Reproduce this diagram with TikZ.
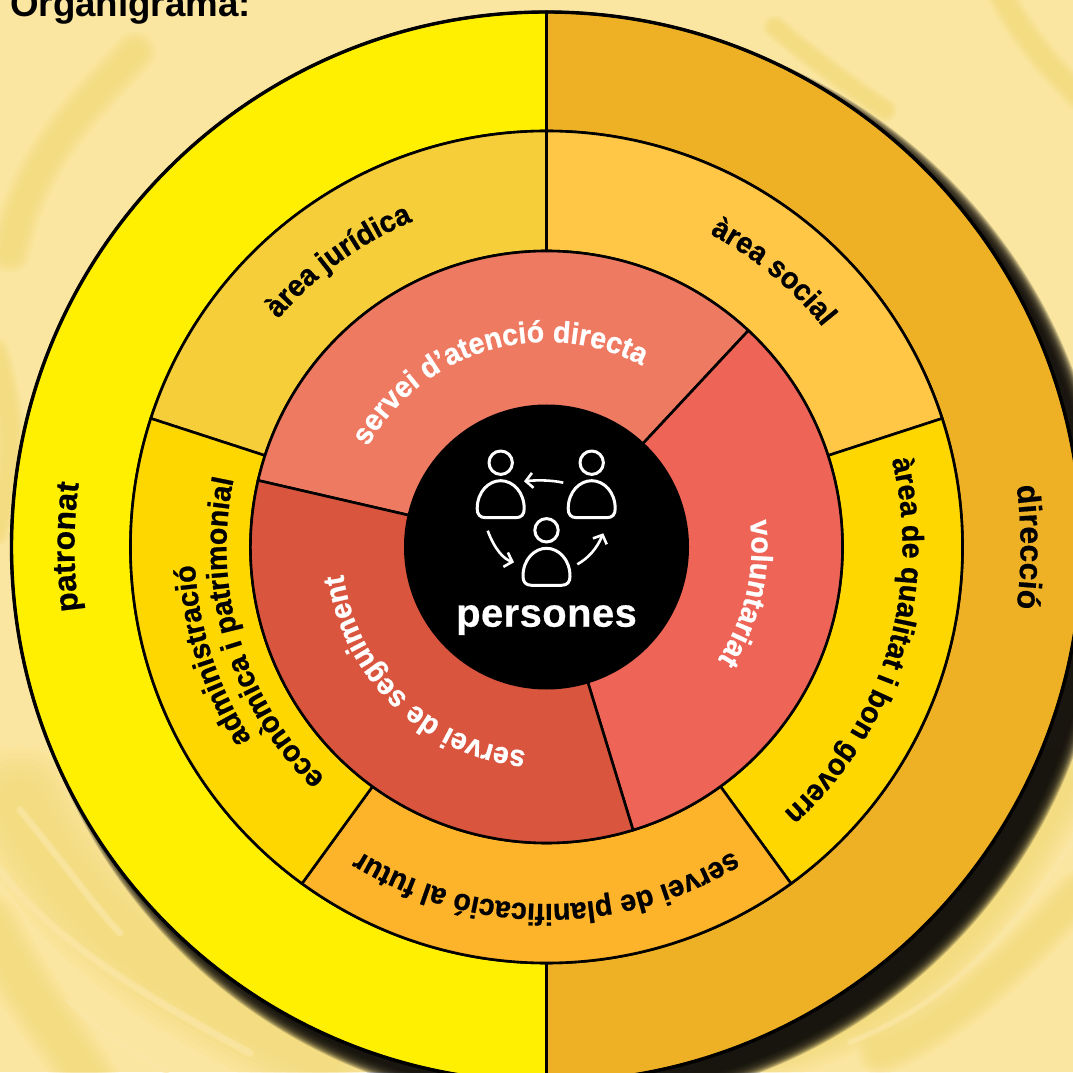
\documentclass[tikz,border=0pt]{standalone}
\usepackage{fontspec}
\usetikzlibrary{decorations.text,arrows.meta}
\setmainfont{Liberation Sans}
\newfontfamily\narrowfont[FakeStretch=0.95,BoldFeatures={FakeBold=0.8}]{Liberation Sans}
\newfontfamily\widefont[BoldFeatures={FakeBold=0.5,LetterSpace=1}]{Liberation Sans}
\definecolor{bgc}{HTML}{FAE6A0}
\definecolor{swirl}{HTML}{F1D76E}
\definecolor{lightstreak}{HTML}{FBE8A8}
\definecolor{cpatronat}{HTML}{FFEF00}
\definecolor{cdireccio}{HTML}{EEB025}
\definecolor{cjuridica}{HTML}{F5CE3A}
\definecolor{csocial}{HTML}{FFC745}
\definecolor{cgold}{HTML}{FFD700}
\definecolor{cplan}{HTML}{FDB32A}
\definecolor{catencio}{HTML}{EF7A62}
\definecolor{cvolunt}{HTML}{EE6557}
\definecolor{cseguiment}{HTML}{D9553E}
\newcommand{\sector}[5]{% r1 r2 a1 a2 colour
  \filldraw[fill=#5,draw=black,line width=2.6pt]
    (#3:#2) arc[start angle=#3,end angle=#4,radius=#2]
    -- (#4:#1) arc[start angle=#4,end angle=#3,radius=#1] -- cycle;}
\newcommand{\arclabel}[6]{% radius centre half-span size font/colour text
  \pgfmathsetmacro{\aS}{#2+#3}\pgfmathsetmacro{\aE}{#2-#3}
  \path[decorate,decoration={text along path,text align=center,
    text={|\fontsize{#4}{#4}\selectfont\bfseries #5|#6}}]
    (\aS:#1) arc[start angle=\aS,end angle=\aE,radius=#1];}
\newcommand{\persona}[2]{%
  \begin{scope}[shift={(#1,#2)},iconline]
    \draw (-15,0) .. controls (-21,0) and (-23.5,3.5) .. (-23.5,9)
      .. controls (-23.5,26) and (-12,37) .. (0,37)
      .. controls (12,37) and (23.5,26) .. (23.5,9)
      .. controls (23.5,3.5) and (21,0) .. (15,0) -- cycle;
    \draw (0,55) circle[radius=11.7];
  \end{scope}}
\newcommand{\swirlband}[2]{%
  \foreach \w in {1,0.9,0.8,0.7,0.6,0.5,0.4}{
    \draw[swirl,opacity=0.11,line width=#1*\w pt,line cap=round] #2;}}
\newcommand{\streak}[2]{%
  \foreach \w in {1,0.6}{
    \draw[lightstreak,opacity=0.45,line width=#1*\w pt,line cap=round] #2;}}
\tikzset{
  iconline/.style={draw=white,line width=3pt,line join=round},
  cyclearrow/.style={draw=white,line width=2.6pt,-{Straight Barb[length=7pt,width=15pt,line width=2.6pt]}},
}
\begin{document}
\begin{tikzpicture}[x=1pt,y=1pt]
\useasboundingbox (0,0) rectangle (1073,1072);
\clip (0,0) rectangle (1073,1072);
\fill[bgc] (0,0) rectangle (1073,1072);
% background swirls: lower left
\swirlband{110}{(20,270) .. controls (70,170) and (130,110) .. (320,20)}
\swirlband{60}{(-10,150) .. controls (30,70) and (60,40) .. (90,-10)}
\streak{8}{(0,202) .. controls (50,135) and (133,82) .. (250,19)}
\streak{8}{(20,262) .. controls (67,205) and (95,165) .. (120,139)}
\streak{5}{(67,72) .. controls (90,50) and (130,20) .. (167,0)}
% left edge and upper left
\swirlband{30}{(-5,720) .. controls (15,650) and (15,600) .. (-5,540)}
\swirlband{42}{(10,820) .. controls (30,920) and (90,970) .. (135,1020)}
% lower right
\swirlband{70}{(700,15) .. controls (840,30) and (950,80) .. (1060,290)}
\swirlband{46}{(880,20) .. controls (960,50) and (1030,130) .. (1080,180)}
\streak{6}{(850,30) .. controls (930,60) and (1000,120) .. (1073,230)}
% upper right
\swirlband{24}{(775,1045) .. controls (810,1015) and (850,985) .. (885,962)}
\swirlband{30}{(1000,1080) .. controls (1020,1040) and (1045,1010) .. (1080,975)}
\begin{scope}[shift={(546.5,525)}]
  % shadow
  \foreach \r in {545,544,543,542,541,540,539,538,537,536,535,534,533,532,531}{
    \fill[black!93!bgc,opacity=0.2] (17,-17) circle[radius=\r];}
  % outer ring
  \sector{416}{535}{90}{270}{cpatronat}
  \sector{416}{535}{90}{-90}{cdireccio}
  \draw[black,line width=3.4pt] (0,0) circle[radius=535];
  % middle ring
  \sector{296}{416}{90}{162}{cjuridica}
  \sector{296}{416}{90}{18}{csocial}
  \sector{296}{416}{18}{-54}{cgold}
  \sector{296}{416}{-54}{-126}{cplan}
  \sector{296}{416}{-126}{-198}{cgold}
  % inner ring
  \sector{140}{296}{47}{167}{catencio}
  \sector{140}{296}{47}{-73}{cvolunt}
  \sector{140}{296}{167}{287}{cseguiment}
  % centre
  \fill[black] (0,0) circle[radius=142.5];
  % labels
  \arclabel{472}{180}{30}{32}{\widefont\color{black}}{patronat}
  \arclabel{474}{0}{30}{32}{\widefont\color{black}}{direcció}
  \arclabel{352}{126}{40}{30}{\narrowfont\color{black}}{àrea jurídica}
  \arclabel{353}{50.5}{40}{30}{\narrowfont\color{black}}{àrea social}
  \arclabel{356}{-17}{50}{30}{\narrowfont\color{black}}{àrea de qualitat i bon govern}
  \arclabel{357}{-90}{50}{30}{\narrowfont\color{black}}{servei de planificació al futur}
  \arclabel{320}{197}{50}{30}{\narrowfont\color{black}}{econòmica i patrimonial}
  \arclabel{352}{198}{30}{30}{\narrowfont\color{black}}{administració}
  \arclabel{205}{106.5}{70}{30}{\narrowfont\color{white}}{servei d’atenció directa}
  \arclabel{205}{-13}{40}{30}{\narrowfont\color{white}}{voluntariat}
  \arclabel{205}{226}{60}{30}{\narrowfont\color{white}}{servei de seguiment}
  % icon
  \persona{-45.8}{29.3}
  \persona{45.2}{29.3}
  \persona{0}{-38.3}
  \draw[cyclearrow] (16.8,64.3) .. controls (5,67) and (-10,67) .. (-22.5,65.7);
  \draw[cyclearrow] (-58.8,16.3) .. controls (-52,-2) and (-43,-12) .. (-32.5,-15.3);
  \draw[cyclearrow] (30.8,-17.3) .. controls (42,-11) and (50,-2) .. (56.8,13.7);
  \node[text=white,font=\fontsize{40}{40}\selectfont\widefont\bfseries,anchor=base] (persones) at (0,-79.7) {persones};
\end{scope}
\node[anchor=base west,font=\fontsize{36.7}{36.7}\selectfont\bfseries,inner sep=0pt] (titol) at (10,1055.5) {Organigrama:};
\end{tikzpicture}
\end{document}
